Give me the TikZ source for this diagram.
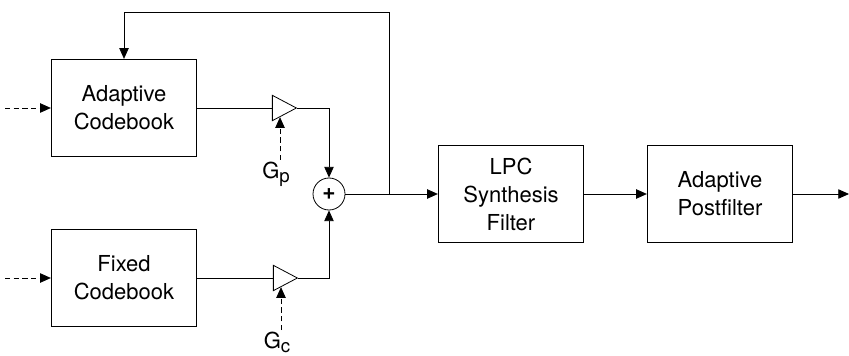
\documentclass[tikz,border=0pt]{standalone}
\usepackage{fontspec}
\setmainfont{TeX Gyre Heros}
\usepackage{tikz}
\usetikzlibrary{arrows.meta,positioning,shapes.geometric,calc}

\begin{document}
\begin{tikzpicture}[x=0.75pt,y=-0.75pt,
blk/.style={draw,line width=0.7pt,minimum width=109pt,minimum height=73pt,align=center,font=\fontsize{16.5}{21}\selectfont},
amp/.style={draw,line width=0.6pt,isosceles triangle,isosceles triangle stretches,minimum width=19pt,minimum height=18pt,inner sep=0pt},
summ/.style={draw,line width=0.6pt,circle,minimum size=24pt,inner sep=0pt,font=\bfseries\fontsize{17}{17}\selectfont},
lbl/.style={anchor=north,inner sep=1pt,font=\fontsize{16.5}{16.5}\selectfont},
sig/.style={line width=0.6pt,-{Triangle[length=8pt,width=7pt]}},
gain/.style={line width=0.6pt,dash pattern=on 4pt off 2.5pt,-{Triangle[length=8pt,width=7pt]}}
]
\useasboundingbox (0,0) rectangle (849,356);
\node[blk] (ac) at (124,108) {Adaptive\\Codebook};
\node[blk] (fc) at (124,278) {Fixed\\Codebook};
\node[amp] (amp1) at (280,108) {};
\node[amp] (amp2) at (281,278) {};
\node[summ] (sum) at (329,194) {+};
\node[blk] (lpc) at (511,194) {LPC\\Synthesis\\Filter};
\node[blk] (post) at (720,194) {Adaptive\\Postfilter};
\node[lbl] (gp) at (276,160) {G\raisebox{-3.5pt}{\fontsize{14}{14}\selectfont p}};
\node[lbl] (gc) at (277,330) {G\raisebox{-3.5pt}{\fontsize{14}{14}\selectfont c}};
\coordinate (in1) at (5,108);
\coordinate (in2) at (5,278);
\coordinate (j) at (389,194);
\coordinate (fb) at (389,12);
\coordinate (out) at (849,194);
\draw[gain] (in1)--(ac.west);
\draw[gain] (in2)--(fc.west);
\draw[line width=0.6pt] (ac.east)--(amp1.west);
\draw[line width=0.6pt] (fc.east)--(amp2.west);
\draw[sig] (amp1.east)-|(sum.north);
\draw[sig] (amp2.east)-|(sum.south);
\draw[gain] (gp.north -| amp1)--(amp1.south);
\draw[gain] (gc.north -| amp2)--(amp2.south);
\draw[sig] (sum.east)--(lpc.west);
\draw[sig] (j)--(fb)-|(ac.north);
\draw[sig] (lpc.east)--(post.west);
\draw[sig] (post.east)--(out);
\end{tikzpicture}
\end{document}
